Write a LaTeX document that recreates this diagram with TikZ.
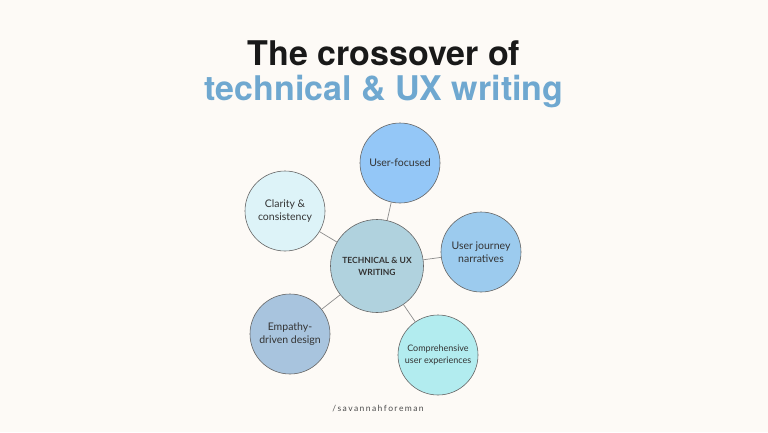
\documentclass[tikz,border=0pt]{standalone}
\usepackage{fontspec}
\setmainfont{Lato}
\newfontfamily\titlefont{TeX Gyre Heros}
\begin{document}
\begin{tikzpicture}[x=1pt,y=-1pt,
  bub/.style={circle,draw=black!60,line width=0.6pt,minimum size=80pt,inner sep=0pt,align=center,font=\fontsize{10.5}{13}\selectfont,text=black!80},
  link/.style={draw=black!45,line width=0.7pt}]
\definecolor{bg}{HTML}{FDFAF6}
\definecolor{tblue}{HTML}{6FA8D0}
\definecolor{cM}{HTML}{B0D2DE}
\definecolor{cA}{HTML}{94C7F7}\definecolor{cB}{HTML}{DDF3F8}\definecolor{cC}{HTML}{9CCBEE}
\definecolor{cD}{HTML}{A8C4DE}\definecolor{cE}{HTML}{B2ECEF}
\fill[bg] (0,0) rectangle (768,432);
\useasboundingbox (0,0) rectangle (768,432);
\node[font=\titlefont\bfseries\fontsize{34}{36}\selectfont,text=black!90] (t1) at (384,53) {The crossover of};
\node[font=\titlefont\bfseries\fontsize{34}{36}\selectfont,text=tblue] (t2) at (384,92) {technical \& UX writing};
\node[bub,fill=cM,minimum size=93pt,font=\bfseries\fontsize{8.5}{12}\selectfont] (c) at (377,266) {TECHNICAL \& UX\\WRITING};
\node[bub,fill=cA] (a) at (400,163) {User-focused};
\node[bub,fill=cB] (b) at (285,211) {Clarity \&\\consistency};
\node[bub,fill=cC] (j) at (481,252) {User journey\\narratives};
\node[bub,fill=cD] (e) at (290,334) {Empathy-\\driven design};
\node[bub,fill=cE,font=\fontsize{9}{11.5}\selectfont] (p) at (438,355) {Comprehensive\\user experiences};
\foreach \n in {a,b,j,e,p} \draw[link] (c) -- (\n);
\node[font=\fontsize{8.5}{10}\selectfont,text=black!70] (f) at (378,409) {/\,s\,a\,v\,a\,n\,n\,a\,h\,f\,o\,r\,e\,m\,a\,n};
\end{tikzpicture}
\end{document}
